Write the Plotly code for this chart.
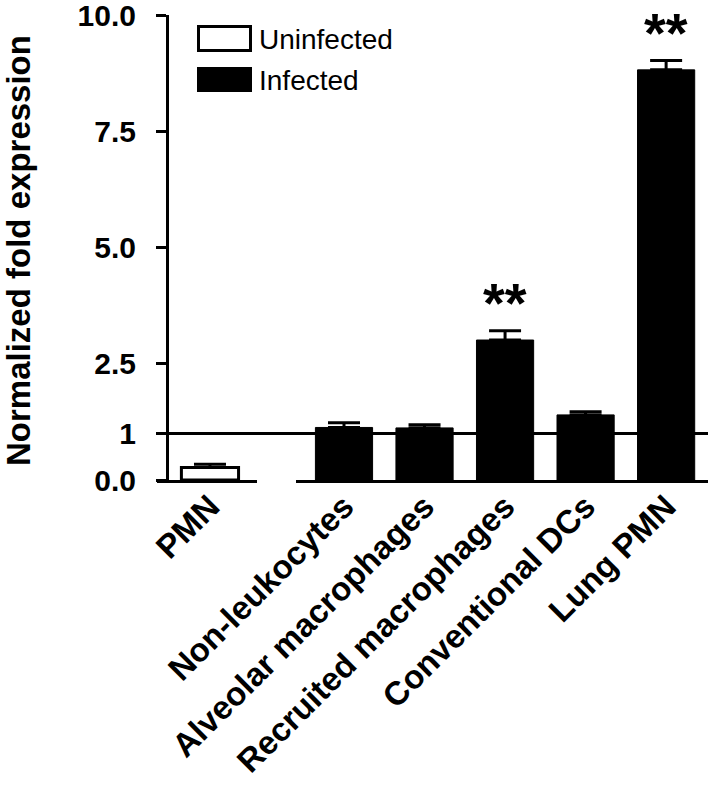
import plotly.graph_objects as go

# ---- data ----
uninf_categories = ["PMN"]
uninf_values = [0.27]
uninf_errors = [0.07]

inf_categories = ["Non-leukocytes", "Alveolar macrophages", "Recruited macrophages",
                  "Conventional DCs", "Lung PMN"]
inf_values = [1.13, 1.12, 3.01, 1.40, 8.82]
inf_errors = [0.10, 0.07, 0.20, 0.07, 0.20]
significance = ["", "", "**", "", "**"]

y_tickvals = [0, 1, 2.5, 5, 7.5, 10]
y_ticktext = ["0.0", "1", "2.5", "5.0", "7.5", "10.0"]
reference_level = 1

# ---- layout geometry (pixels) ----
W, H = 711, 785
L, R, T, B = 157, 3, 15, 305
PW = W - L - R
PH = H - T - B

def px(x):
    return (x - L) / PW

def py(y):
    return (H - B - y) / PH

FONT = "Arial, Liberation Sans, sans-serif"

fig = go.Figure()
fig.add_trace(go.Bar(
    x=uninf_categories, y=uninf_values, xaxis="x", yaxis="y",
    name="Uninfected", width=0.71,
    marker=dict(color="white", line=dict(color="black", width=3)),
    error_y=dict(type="data", symmetric=False, array=uninf_errors,
                 arrayminus=[0] * len(uninf_errors), color="black", thickness=3, width=16),
    showlegend=False,
))
fig.add_trace(go.Bar(
    x=inf_categories, y=inf_values, xaxis="x2", yaxis="y",
    name="Infected", width=0.71,
    marker=dict(color="black", line=dict(color="black", width=1)),
    error_y=dict(type="data", symmetric=False, array=inf_errors,
                 arrayminus=[0] * len(inf_errors), color="black", thickness=3, width=16),
    showlegend=False,
))

annotations = []
for cat, v, e, s in zip(inf_categories, inf_values, inf_errors, significance):
    if s:
        annotations.append(dict(
            x=cat, y=v + e, xref="x2", yref="y", text=s, showarrow=False,
            yanchor="middle", yshift=28,
            font=dict(family=FONT, size=56, color="black", weight="bold"),
        ))

# y-axis title
annotations.append(dict(
    x=px(18), y=py(251), xref="paper", yref="paper", text="Normalized fold expression",
    textangle=-90, showarrow=False, xanchor="center", yanchor="middle",
    font=dict(family=FONT, size=33, color="black", weight="bold"),
))
# legend texts
annotations.append(dict(x=px(257), y=py(39), xref="paper", yref="paper", text="Uninfected",
                        showarrow=False, xanchor="left", yanchor="middle",
                        font=dict(family=FONT, size=28, color="black")))
annotations.append(dict(x=px(257), y=py(80), xref="paper", yref="paper", text="Infected",
                        showarrow=False, xanchor="left", yanchor="middle",
                        font=dict(family=FONT, size=28, color="black")))

shapes = [
    dict(type="line", xref="paper", yref="y", x0=0, x1=1, y0=reference_level, y1=reference_level,
         line=dict(color="black", width=3), layer="above"),
    dict(type="rect", xref="paper", yref="paper", x0=px(198.5), x1=px(250.5),
         y0=py(50.5), y1=py(26.5), line=dict(color="black", width=3), fillcolor="white"),
    dict(type="rect", xref="paper", yref="paper", x0=px(197), x1=px(252),
         y0=py(92), y1=py(67), line=dict(color="black", width=0), fillcolor="black"),
]

axis_common = dict(
    showline=True, linecolor="black", linewidth=3, ticks="", showgrid=False, zeroline=False,
    tickangle=-45, tickfont=dict(family=FONT, size=33, color="black", weight="bold"),
    anchor="y", type="category", ticklabelstandoff=-9,
)

fig.update_layout(
    width=W, height=H,
    margin=dict(l=L, r=R, t=T, b=B, autoexpand=False),
    paper_bgcolor="white", plot_bgcolor="white",
    bargap=0.3,
    xaxis=dict(domain=[0, px(257)], range=[-0.658, 0.584], **axis_common),
    xaxis2=dict(domain=[px(296), 1], range=[-0.596, 4.52], **axis_common),
    yaxis=dict(range=[0, 10], anchor="free", position=px(167),
               tickvals=y_tickvals, ticktext=y_ticktext,
               showline=True, linecolor="black", linewidth=3,
               ticks="outside", ticklen=10, tickwidth=3, tickcolor="black",
               showgrid=False, zeroline=False, ticklabelstandoff=14,
               ticklabeloverflow="allow",
               tickfont=dict(family=FONT, size=30, color="black", weight="bold")),
    annotations=annotations,
    shapes=shapes,
    showlegend=False,
)

fig.write_html("out.html", config={"displayModeBar": False},
               post_script="document.body.style.margin='0';")
